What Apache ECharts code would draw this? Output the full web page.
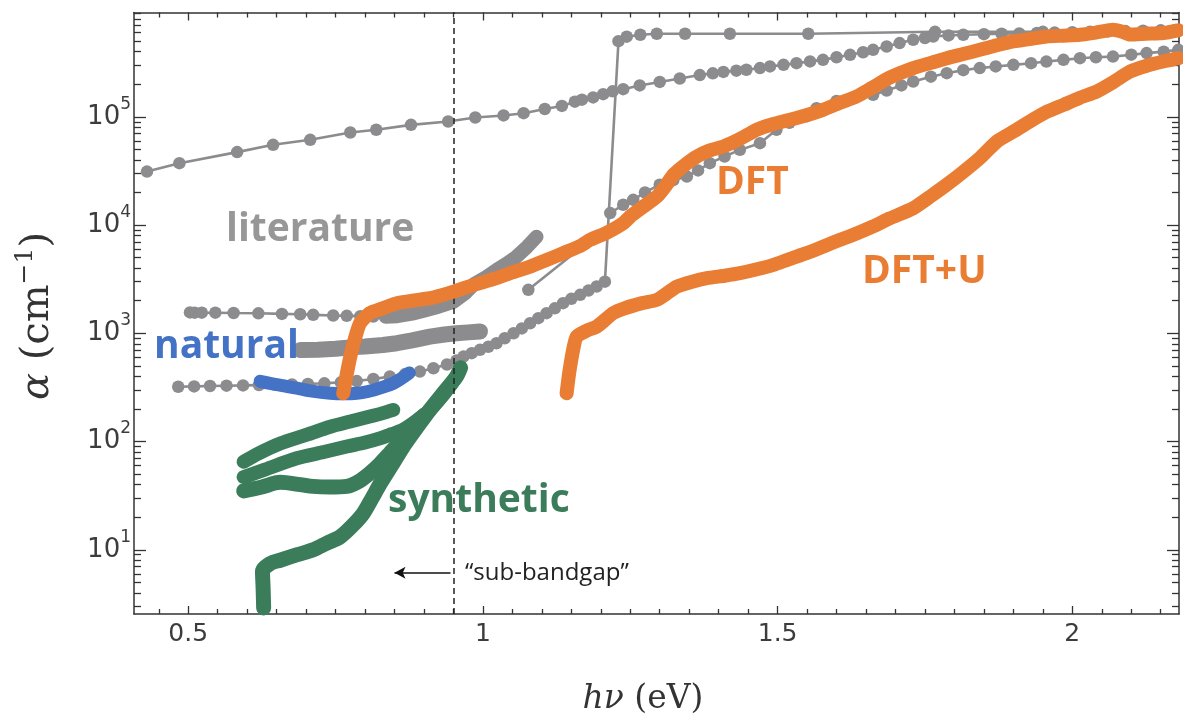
<!DOCTYPE html>
<html><head><meta charset="utf-8">
<script src="https://cdn.jsdelivr.net/npm/echarts@6/dist/echarts.min.js"></script>
<style>html,body{margin:0;padding:0;background:#fff}#c{width:1183px;height:717px}</style>
</head><body><div id="c"></div>
<script>
// ---------------- data (hν in eV, α in cm^-1) ----------------
const litTop = [[0.43,3.12e4],[0.485,3.73e4],[0.583,4.72e4],[0.644,5.51e4],[0.707,6.13e4],[0.775,7.16e4],[0.819,7.59e4],[0.878,8.43e4],[0.941,9.06e4],[0.987,9.86e4],[1.035,1.03e5],[1.069,1.08e5],[1.105,1.18e5],[1.134,1.26e5],[1.156,1.38e5],[1.168,1.44e5],[1.187,1.51e5],[1.204,1.62e5],[1.22,1.72e5],[1.238,1.8e5],[1.266,1.95e5],[1.3,2.1e5],[1.334,2.26e5],[1.368,2.43e5],[1.39,2.52e5],[1.408,2.6e5],[1.43,2.67e5],[1.447,2.72e5],[1.47,2.82e5],[1.487,2.92e5],[1.51,3.02e5],[1.532,3.13e5],[1.555,3.25e5],[1.577,3.36e5],[1.6,3.55e5],[1.623,3.74e5],[1.645,3.95e5],[1.662,4.16e5],[1.685,4.46e5],[1.707,4.8e5],[1.73,5.15e5],[1.75,5.35e5],[1.764,5.52e5],[1.79,5.65e5],[1.815,5.73e5],[1.85,5.8e5],[1.88,5.85e5],[1.91,5.9e5],[1.94,5.95e5],[1.97,6.0e5],[2.0,6.05e5],[2.03,6.1e5],[2.06,6.15e5],[2.09,6.2e5],[2.12,6.25e5],[2.15,6.3e5],[2.175,6.35e5]];
const litLowJump = [[0.483,321],[0.51,323],[0.537,326],[0.565,328],[0.593,330],[0.62,332],[0.648,334],[0.676,337],[0.703,340],[0.731,345],[0.759,352],[0.786,362],[0.814,378],[0.842,398],[0.868,420],[0.893,443],[0.916,475],[0.939,515],[0.955,560],[0.967,609],[0.981,655],[0.995,703],[1.009,750],[1.023,809],[1.037,900],[1.052,1000],[1.066,1110],[1.08,1238],[1.094,1380],[1.108,1535],[1.122,1700],[1.136,1898],[1.15,2080],[1.165,2265],[1.179,2480],[1.193,2704],[1.207,3000],[1.23,5.0e5],[1.244,5.5e5],[1.267,5.73e5],[1.295,5.85e5],[1.343,5.85e5],[1.419,5.85e5],[1.552,5.85e5],[1.767,6.1e5],[1.95,6.1e5],[2.18,6.3e5]];
const litHigh = [[1.216,1.29e4],[1.238,1.54e4],[1.255,1.71e4],[1.275,2.0e4],[1.3,2.36e4],[1.323,2.6e4],[1.346,2.81e4],[1.365,3.2e4],[1.385,3.73e4],[1.41,4.3e4],[1.436,4.95e4],[1.47,5.71e4],[1.498,7.59e4],[1.52,8.8e4],[1.549,1.01e5],[1.566,1.2e5],[1.6,1.4e5],[1.63,1.5e5],[1.662,1.6e5],[1.685,1.75e5],[1.71,1.95e5],[1.73,2.12e5],[1.76,2.35e5],[1.787,2.53e5],[1.815,2.7e5],[1.843,2.82e5],[1.87,2.92e5],[1.9,3.02e5],[1.93,3.13e5],[1.956,3.24e5],[1.985,3.36e5],[2.013,3.48e5],[2.04,3.55e5],[2.069,3.6e5],[2.1,3.75e5],[2.126,3.88e5],[2.155,4.0e5],[2.18,4.16e5]];
const litMidDots = [[0.503,1560],[0.511,1550],[0.523,1550],[0.546,1550],[0.577,1540],[0.619,1530],[0.659,1510],[0.69,1500],[0.712,1480],[0.746,1460],[0.769,1450],[0.792,1440],[0.814,1430],[0.835,1420]];
const litMidBand = [[0.835,1420],[0.855,1440],[0.88,1520],[0.9,1620],[0.925,1760],[0.95,1950],[0.97,2350],[0.985,2850],[1.005,3300],[1.023,3850],[1.04,4400],[1.057,5100],[1.075,6300],[1.091,7800]];
const litBand700 = [[0.69,700],[0.72,705],[0.75,720],[0.78,745],[0.80,755],[0.83,780],[0.854,810],[0.88,860],[0.91,930],[0.935,975],[0.955,1000],[0.975,1020],[0.995,1040]];
const litShort = [[1.077,2520],[1.16,5800]];
const natural = [[0.622,360],[0.65,335],[0.684,311],[0.71,292],[0.741,279],[0.765,276],[0.786,279],[0.805,290],[0.825,311],[0.85,350],[0.875,430]];
const synA = [[0.594,65],[0.62,78],[0.656,96],[0.70,115],[0.741,137],[0.775,153],[0.808,170],[0.83,183],[0.848,196]];
const synB = [[0.594,47],[0.63,55],[0.684,70],[0.73,80],[0.769,90],[0.80,98],[0.825,107],[0.845,117],[0.864,128],[0.89,160],[0.91,196],[0.935,280],[0.955,398],[0.962,480]];
const synC = [[0.594,35],[0.625,38],[0.656,42],[0.69,40],[0.712,38.5],[0.74,38],[0.769,38.5],[0.79,43],[0.808,51],[0.825,62],[0.842,78],[0.86,100],[0.881,137],[0.9,175]];
const synD = [[0.628,2.9],[0.627,4.5],[0.626,6.3],[0.64,7.5],[0.656,8],[0.685,9],[0.712,10],[0.735,11.5],[0.758,13.2],[0.78,17],[0.797,21.7],[0.812,30],[0.826,41],[0.845,60],[0.865,90],[0.888,135],[0.91,196],[0.935,290],[0.955,398],[0.962,480]];
const dft = [[0.763,279],[0.769,420],[0.775,609],[0.783,900],[0.7915,1238],[0.808,1535],[0.83,1700],[0.854,1898],[0.88,2000],[0.91,2109],[0.93,2250],[0.95,2427],[0.985,2800],[1.023,3228],[1.05,3650],[1.08,4135],[1.11,4800],[1.136,5495],[1.165,6400],[1.182,7300],[1.21,8500],[1.238,1.04e4],[1.25,1.2e4],[1.27,1.45e4],[1.295,1.83e4],[1.31,2.3e4],[1.323,2.9e4],[1.34,3.5e4],[1.363,4.3e4],[1.385,4.9e4],[1.408,5.32e4],[1.435,6.2e4],[1.464,7.59e4],[1.49,8.5e4],[1.521,9.38e4],[1.55,1.04e5],[1.577,1.16e5],[1.605,1.34e5],[1.634,1.54e5],[1.66,1.85e5],[1.69,2.3e5],[1.73,2.82e5],[1.76,3.15e5],[1.787,3.48e5],[1.815,3.8e5],[1.843,4.16e5],[1.87,4.55e5],[1.9,4.97e5],[1.93,5.25e5],[1.956,5.52e5],[1.985,5.62e5],[2.013,5.73e5],[2.04,6.0e5],[2.069,6.37e5],[2.085,6.1e5],[2.098,5.75e5],[2.125,5.85e5],[2.154,5.94e5],[2.18,6.3e5]];
const dftU = [[1.142,279],[1.145,380],[1.148,492],[1.153,700],[1.159,931],[1.175,1050],[1.193,1153],[1.205,1300],[1.221,1535],[1.24,1700],[1.27,1900],[1.295,2037],[1.315,2400],[1.329,2704],[1.355,3000],[1.38,3228],[1.41,3400],[1.436,3590],[1.465,3900],[1.493,4290],[1.52,4850],[1.549,5500],[1.578,6350],[1.606,7300],[1.635,8400],[1.662,9700],[1.69,1.15e4],[1.73,1.43e4],[1.76,1.85e4],[1.787,2.36e4],[1.815,3.1e4],[1.843,4.15e4],[1.872,5.92e4],[1.9,7.3e4],[1.928,9.06e4],[1.955,1.1e5],[1.985,1.29e5],[2.013,1.5e5],[2.041,1.71e5],[2.07,2.1e5],[2.098,2.62e5],[2.125,2.95e5],[2.154,3.24e5],[2.18,3.48e5]];
const bandgapX = [0.95];
const arrowFrom = [0.945, 6.14];
const arrowTo = [0.85, 6.14];
// axis ticks
const xRange = [0.408, 2.181];
const yRange = [2.55, 9.2e5];
const xMajorTicks = [0.5, 1, 1.5, 2];
const xMinorStep = 0.05;
const yDecades = [1, 2, 3, 4, 5];
const yMinorMultipliers = [2, 3, 4, 5, 6, 7, 8, 9];

// ---------------- build ----------------
const GRAY = '#8c8c8e', ORANGE = '#ea7d34', GREEN = '#3b7c5a', BLUE = '#4472c4', AXIS = '#333';
const lyMin = Math.log10(yRange[0]), lyMax = Math.log10(yRange[1]);
const xMinorTicks = [];
for (let v = Math.ceil(xRange[0] / xMinorStep) * xMinorStep; v <= xRange[1]; v += xMinorStep) {
  const r = Math.round(v * 100) / 100;
  if (!xMajorTicks.some(m => Math.abs(m - r) < 1e-6)) xMinorTicks.push(r);
}
const yMinorTicks = [];
for (let d = 0; d <= 5; d++) yMinorMultipliers.forEach(m => {
  const l = Math.log10(m * Math.pow(10, d));
  if (l > lyMin && l < lyMax) yMinorTicks.push(l);
});
const LABEL_FONT = 'DejaVu Sans';
function xAx(pos, ticks, len, showLine, showLabel) {
  return { type: 'value', position: pos, min: xRange[0], max: xRange[1], gridIndex: 0,
    axisLine: { show: showLine, onZero: false, lineStyle: { color: AXIS, width: 1.5 } },
    axisTick: { show: true, inside: true, length: len, customValues: ticks, lineStyle: { color: AXIS, width: 1.3 } },
    axisLabel: { show: showLabel, customValues: ticks, margin: 8, fontFamily: LABEL_FONT, fontSize: 25, color: '#3c3c3c' },
    splitLine: { show: false } };
}
function yAx(pos, ticks, len, showLabel) {
  return { type: 'value', position: pos, min: lyMin, max: lyMax, gridIndex: 0,
    axisLine: { show: false, onZero: false },
    axisTick: { show: true, inside: true, length: len, customValues: ticks, lineStyle: { color: AXIS, width: 1.3 } },
    axisLabel: { show: showLabel, customValues: ticks, margin: 3,
      formatter: v => '{b|10}{s|' + Math.round(v) + '}',
      rich: { b: { fontFamily: LABEL_FONT, fontSize: 26, color: '#3c3c3c', lineHeight: 42 },
              s: { fontFamily: LABEL_FONT, fontSize: 17, color: '#3c3c3c', lineHeight: 18, verticalAlign: 'top' } } },
    splitLine: { show: false } };
}
function dots(data, z) {
  return { type: 'line', data: data, symbol: 'circle', symbolSize: 12.5, showSymbol: true,
    lineStyle: { color: GRAY, width: 2.6 }, itemStyle: { color: GRAY }, z: z || 2, silent: true };
}
function band(data, color, width, z, smooth) {
  return { type: 'line', data: data, symbol: 'none', smooth: smooth || 0,
    lineStyle: { color: color, width: width, cap: 'round', join: 'round' }, z: z, silent: true };
}
const shortData = litShort.map((p, i) => i === 0 ? p : { value: p, symbol: 'none' });

const option = {
  animation: false,
  backgroundColor: '#fff',
  grid: { left: 134, top: 12.5, width: 1045, height: 601.5, outerBoundsMode: 'none', show: false },
  xAxis: [
    xAx('bottom', xMajorTicks, 8, true, true),
    xAx('bottom', xMinorTicks, 5, false, false),
    xAx('top', xMajorTicks, 8, true, false),
    xAx('top', xMinorTicks, 5, false, false)
  ],
  yAxis: [
    { type: 'log', logBase: 10, position: 'left', min: yRange[0], max: yRange[1],
      axisLine: { show: true, onZero: false, lineStyle: { color: AXIS, width: 1.5 } },
      axisTick: { show: false }, axisLabel: { show: false }, splitLine: { show: false } },
    yAx('left', yDecades, 12, true),
    yAx('left', yMinorTicks, 7, false),
    Object.assign(yAx('right', yDecades, 12, false), { axisLine: { show: true, onZero: false, lineStyle: { color: AXIS, width: 1.5 } } }),
    yAx('right', yMinorTicks, 7, false)
  ],
  series: [
    dots(litTop), dots(litLowJump), dots(litHigh), dots(litMidDots),
    band(litMidBand, GRAY, 14, 2), band(litBand700, GRAY, 16, 2), dots(shortData),
    band(natural, BLUE, 13, 3, 0.3),
    band(synA, GREEN, 14, 4, 0.3), band(synB, GREEN, 14, 4, 0.3), band(synC, GREEN, 15, 4, 0.3), band(synD, GREEN, 15, 4, 0.3),
    band(dft, ORANGE, 14, 5, 0.2), band(dftU, ORANGE, 14, 5, 0.2),
    { type: 'line', data: [], z: 6, silent: true,
      markLine: { silent: true, symbol: ['none', 'none'], label: { show: false },
        lineStyle: { color: '#222', width: 1.5, type: [6, 4] },
        data: bandgapX.map(v => ({ xAxis: v })) } },
    { type: 'line', data: [], z: 6, silent: true,
      markLine: { silent: true, symbol: ['none', 'arrow'], symbolSize: [9, 11], label: { show: false },
        lineStyle: { color: '#111', width: 1.5, type: 'solid' },
        data: [[{ coord: arrowFrom }, { coord: arrowTo }]] } }
  ],
  graphic: [
    { type: 'text', x: 226, y: 230, z: 10, style: { text: 'literature', fill: '#979797', font: 'bold 39px "Open Sans"', verticalAlign: 'middle' } },
    { type: 'text', x: 154, y: 347, z: 10, style: { text: 'natural', fill: BLUE, font: 'bold 39px "Open Sans"', verticalAlign: 'middle' } },
    { type: 'text', x: 388, y: 501, z: 10, style: { text: 'synthetic', fill: GREEN, font: 'bold 39px "Open Sans"', verticalAlign: 'middle' } },
    { type: 'text', x: 716, y: 183, z: 10, style: { text: 'DFT', fill: ORANGE, font: 'bold 39px "Open Sans"', verticalAlign: 'middle' } },
    { type: 'text', x: 862, y: 272, z: 10, style: { text: 'DFT+U', fill: ORANGE, font: 'bold 39px "Open Sans"', verticalAlign: 'middle' } },
    { type: 'text', x: 465, y: 573, z: 10, style: { text: '\u201Csub-bandgap\u201D', fill: '#222', font: '24px "Open Sans"', verticalAlign: 'middle' } },
    { type: 'text', x: 643, y: 699, z: 10, style: { text: '{i|h\u03BD}{n| (eV)}', align: 'center', verticalAlign: 'middle',
        rich: { i: { fontFamily: 'DejaVu Serif', fontSize: 33, fontStyle: 'italic', fill: '#333' },
                n: { fontFamily: 'DejaVu Serif', fontSize: 33, fill: '#333' } } } },
    { type: 'text', x: 38, y: 316, rotation: Math.PI / 2, z: 10, style: { text: '{i|\u03B1}{n| (cm}{s|\u22121}{n|)}', align: 'center', verticalAlign: 'middle',
        rich: { i: { fontFamily: 'DejaVu Serif', fontSize: 40, fontStyle: 'italic', fill: '#333', lineHeight: 50 },
                n: { fontFamily: 'DejaVu Serif', fontSize: 40, fill: '#333', lineHeight: 50 },
                s: { fontFamily: 'DejaVu Serif', fontSize: 25, fill: '#333', lineHeight: 27, verticalAlign: 'top' } } } }
  ]
};
const chart = echarts.init(document.getElementById('c'));
chart.setOption(option);
</script></body></html>
